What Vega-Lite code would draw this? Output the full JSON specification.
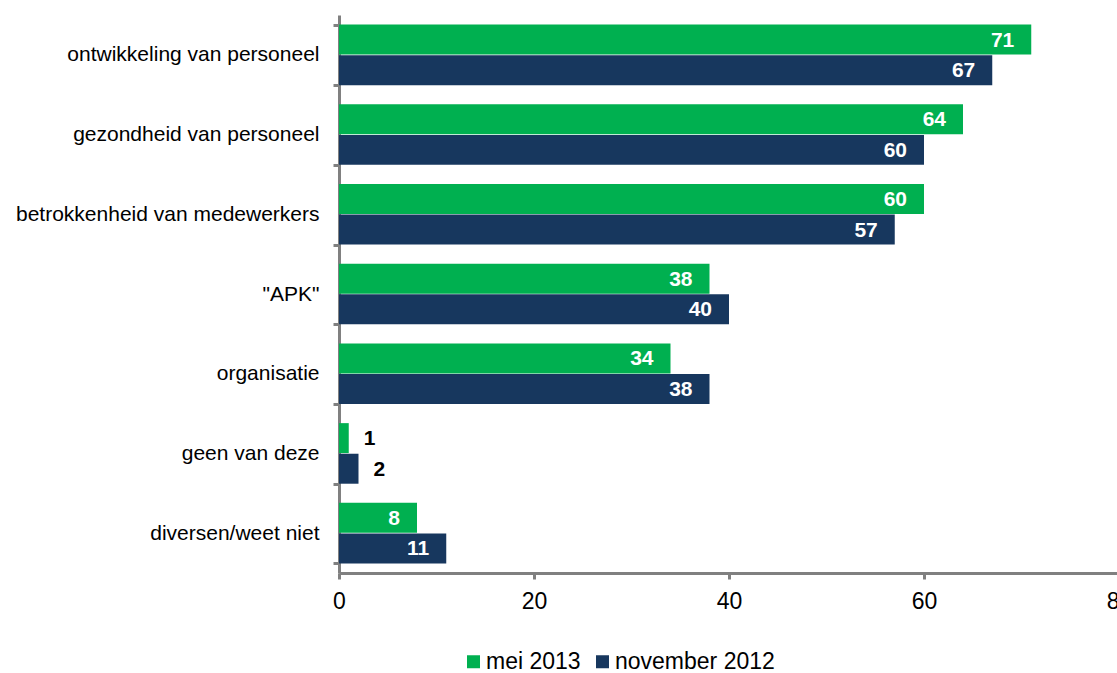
{
  "$schema": "https://vega.github.io/schema/vega-lite/v6.json",
  "autosize": "none",
  "width": 780,
  "height": 558,
  "padding": {"left": 339, "top": 15, "right": 0, "bottom": 100},
  "background": "white",
  "config": {
    "font": "Liberation Sans",
    "view": {"stroke": null}
  },
  "data": {
    "values": [
      {"item": "ontwikkeling van personeel", "serie": "mei 2013", "waarde": 71},
      {"item": "ontwikkeling van personeel", "serie": "november 2012", "waarde": 67},
      {"item": "gezondheid van personeel", "serie": "mei 2013", "waarde": 64},
      {"item": "gezondheid van personeel", "serie": "november 2012", "waarde": 60},
      {"item": "betrokkenheid van medewerkers", "serie": "mei 2013", "waarde": 60},
      {"item": "betrokkenheid van medewerkers", "serie": "november 2012", "waarde": 57},
      {"item": "\"APK\"", "serie": "mei 2013", "waarde": 38},
      {"item": "\"APK\"", "serie": "november 2012", "waarde": 40},
      {"item": "organisatie", "serie": "mei 2013", "waarde": 34},
      {"item": "organisatie", "serie": "november 2012", "waarde": 38},
      {"item": "geen van deze", "serie": "mei 2013", "waarde": 1},
      {"item": "geen van deze", "serie": "november 2012", "waarde": 2},
      {"item": "diversen/weet niet", "serie": "mei 2013", "waarde": 8},
      {"item": "diversen/weet niet", "serie": "november 2012", "waarde": 11}
    ]
  },
  "encoding": {
    "y": {
      "field": "item",
      "type": "nominal",
      "sort": null,
      "title": null,
      "scale": {"paddingInner": 0.24, "paddingOuter": 0.12},
      "axis": {
        "domainColor": "#808080",
        "domainWidth": 3,
        "tickColor": "#808080",
        "tickWidth": 3,
        "tickSize": 6,
        "tickBand": "extent",
        "labelFontSize": 21,
        "labelColor": "#000000",
        "labelPadding": 14,
        "labelLimit": 400
      }
    },
    "yOffset": {"field": "serie", "type": "nominal", "sort": ["mei 2013", "november 2012"], "scale": {"paddingInner": 0.02}},
    "x": {
      "field": "waarde",
      "type": "quantitative",
      "title": null,
      "scale": {"domain": [0, 80], "nice": false},
      "axis": {
        "values": [0, 20, 40, 60, 80],
        "grid": false,
        "domainColor": "#808080",
        "domainWidth": 3,
        "tickColor": "#808080",
        "tickWidth": 3,
        "tickSize": 6,
        "labelFontSize": 23,
        "labelColor": "#000000",
        "labelPadding": 11,
        "labelFlush": false
      }
    }
  },
  "layer": [
    {
      "mark": {"type": "bar"},
      "encoding": {
        "color": {
          "field": "serie",
          "type": "nominal",
          "scale": {"domain": ["mei 2013", "november 2012"], "range": ["#00B050", "#17375E"]},
          "legend": {
            "title": null,
            "orient": "none",
            "legendX": 123,
            "legendY": 635,
            "direction": "horizontal",
            "symbolType": "square",
            "symbolSize": 169,
            "symbolStrokeWidth": 0,
            "labelFontSize": 23,
            "labelColor": "#000000",
            "labelOffset": 1,
            "columnPadding": 10
          }
        }
      }
    },
    {
      "transform": [{"filter": "datum.waarde >= 5"}],
      "mark": {"type": "text", "align": "right", "baseline": "middle", "dx": -17, "dy": 1, "fontSize": 21, "fontWeight": "bold", "color": "white"},
      "encoding": {"text": {"field": "waarde", "type": "quantitative"}}
    },
    {
      "transform": [{"filter": "datum.waarde < 5"}],
      "mark": {"type": "text", "align": "left", "baseline": "middle", "dx": 15, "dy": 1, "fontSize": 21, "fontWeight": "bold", "color": "black"},
      "encoding": {"text": {"field": "waarde", "type": "quantitative"}}
    }
  ]
}
